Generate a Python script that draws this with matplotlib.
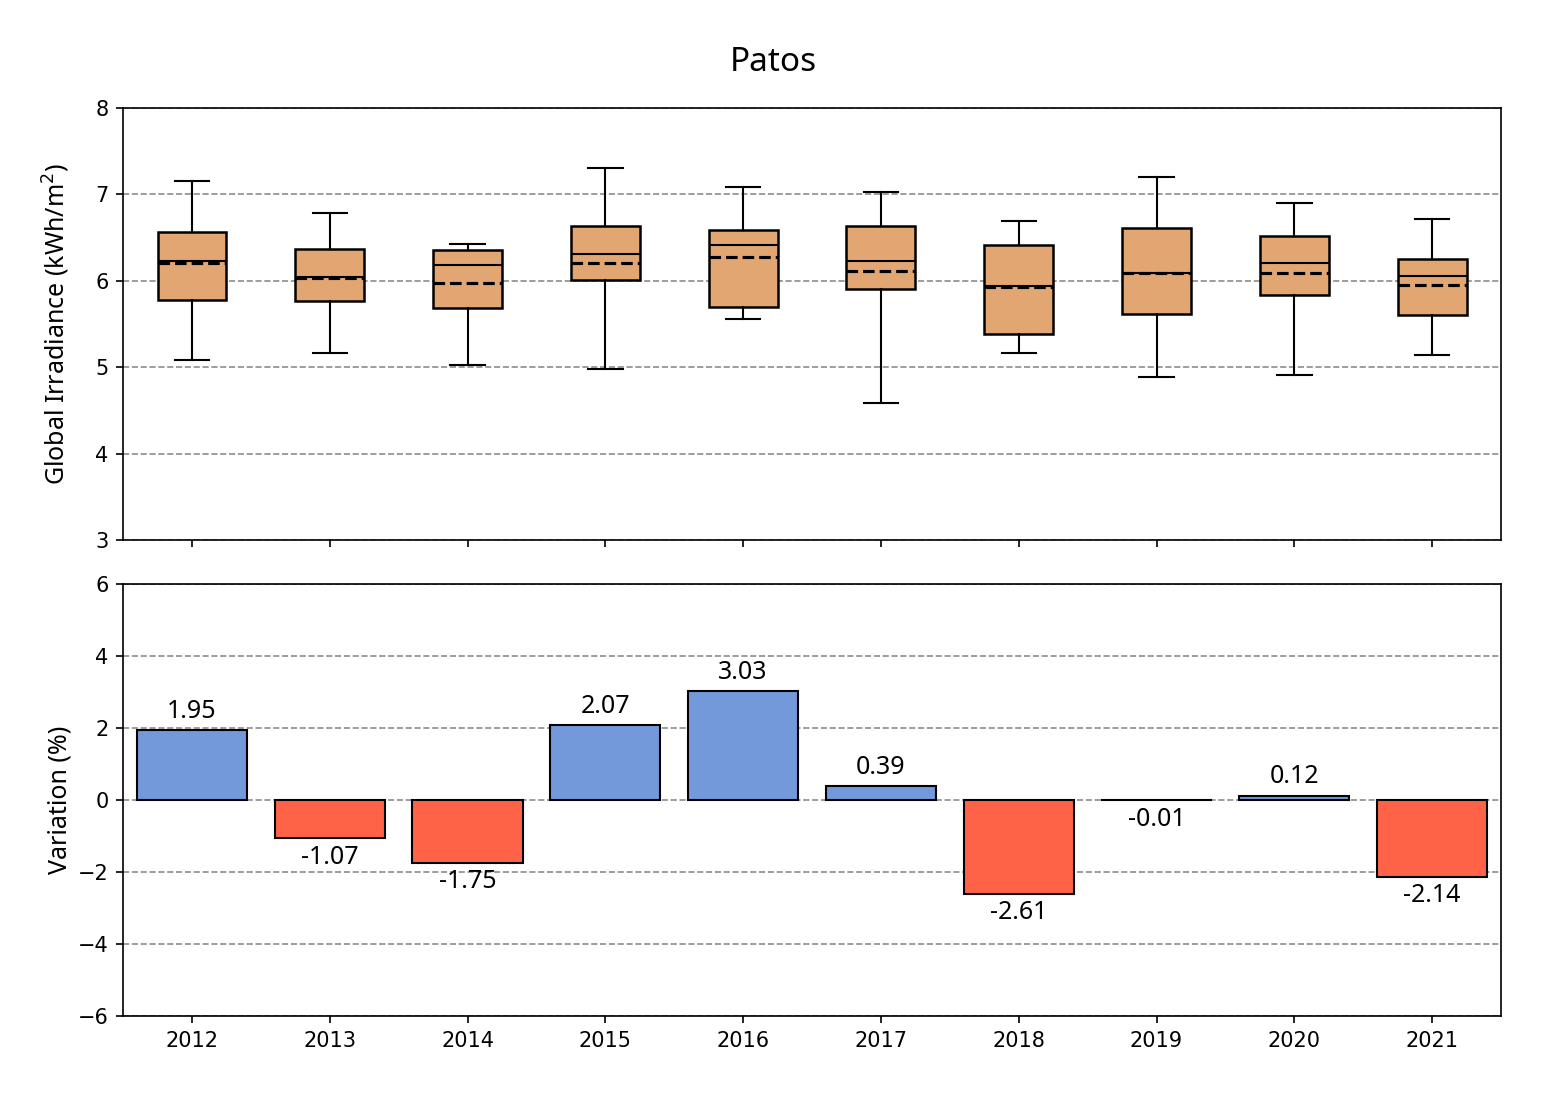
import matplotlib
matplotlib.use("Agg")
import matplotlib.pyplot as plt
import numpy as np

# =========================
# Dados
# =========================
anos = ["2012", "2013", "2014", "2015", "2016", "2017", "2018", "2019", "2020", "2021"]

# estatísticas dos boxplots (kWh/m2)
whis_lo = [5.08, 5.16, 5.03, 4.98, 5.56, 4.59, 5.16, 4.89, 4.91, 5.14]
q1      = [5.78, 5.77, 5.69, 6.01, 5.70, 5.90, 5.38, 5.62, 5.83, 5.60]
mediana = [6.23, 6.04, 6.18, 6.31, 6.41, 6.23, 5.94, 6.09, 6.20, 6.05]
media   = [6.20, 6.03, 5.98, 6.21, 6.27, 6.11, 5.93, 6.09, 6.09, 5.95]
q3      = [6.56, 6.37, 6.36, 6.63, 6.59, 6.63, 6.41, 6.61, 6.52, 6.25]
whis_hi = [7.16, 6.79, 6.43, 7.30, 7.09, 7.03, 6.69, 7.20, 6.90, 6.71]

# variação anual (%)
variacao = [1.95, -1.07, -1.75, 2.07, 3.03, 0.39, -2.61, -0.01, 0.12, -2.14]

COR_BOX = "#E2A673"
COR_POS = "#7399DB"
COR_NEG = "#FF6347"
FONTE = ["Noto Sans", "DejaVu Sans"]

# =========================
# Figura
# =========================
fig = plt.figure(figsize=(15.46 / 1.5, 10.96 / 1.5), dpi=150)
ax1 = fig.add_axes([0.0796, 0.5073, 0.8913, 0.3942])
ax2 = fig.add_axes([0.0796, 0.0730, 0.8913, 0.3942], sharex=ax1)

pos = np.arange(len(anos))

stats = []
for i, a in enumerate(anos):
    stats.append({
        "label": a,
        "whislo": whis_lo[i], "q1": q1[i], "med": mediana[i],
        "q3": q3[i], "whishi": whis_hi[i], "mean": media[i],
        "fliers": [],
    })

ax1.bxp(stats, positions=pos, widths=0.5, patch_artist=True,
        showmeans=True, meanline=True,
        boxprops=dict(facecolor=COR_BOX, edgecolor="black", linewidth=1.2),
        medianprops=dict(color="black", linewidth=1.0),
        meanprops=dict(color="black", linestyle="--", linewidth=1.5),
        whiskerprops=dict(color="black", linewidth=1.0),
        capprops=dict(color="black", linewidth=1.0))

ax1.set_ylim(3, 8)
ax1.set_yticks(range(3, 9))
ax1.grid(axis="y", linestyle="--", color="gray", alpha=0.9, linewidth=0.8)
ax1.set_axisbelow(True)
ax1.tick_params(labelbottom=False)
ax1.set_ylabel("Global Irradiance (kWh/m$^2$)", fontsize=12, family=FONTE)
ax1.yaxis.set_label_coords(-0.037, 0.5)

cores = [COR_POS if v >= 0 else COR_NEG for v in variacao]
barras = ax2.bar(pos, variacao, width=0.8, color=cores, edgecolor="black", linewidth=1.0)
ax2.bar_label(barras, labels=[f"{v:.2f}" for v in variacao], padding=3,
              fontsize=12, family=FONTE)

ax2.set_ylim(-6, 6)
ax2.set_yticks(range(-6, 7, 2))
ax2.set_xlim(-0.5, len(anos) - 0.5)
ax2.set_xticks(pos)
ax2.set_xticklabels(anos)
ax2.grid(axis="y", linestyle="--", color="gray", alpha=0.9, linewidth=0.8)
ax2.set_axisbelow(True)
ax2.set_ylabel("Variation (%)", fontsize=12, family=FONTE)
ax2.yaxis.set_label_coords(-0.037, 0.5)

fig.suptitle("Patos", fontsize=16, family=FONTE, y=0.958)

fig.savefig("out.png", dpi=150)
